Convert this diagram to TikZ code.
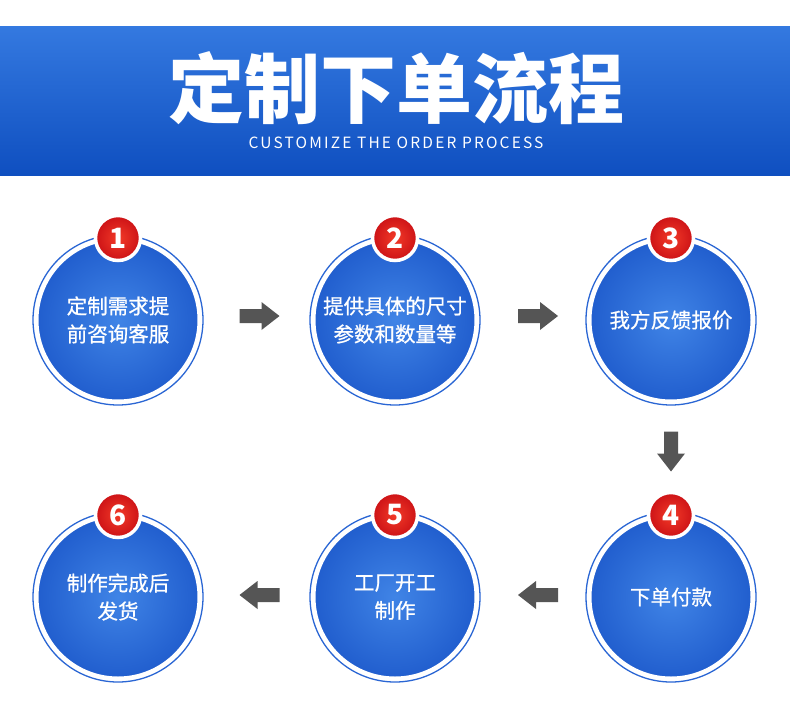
\documentclass[tikz,border=0pt]{standalone}
\usepackage{fontspec}
\setmainfont{Noto Sans CJK SC}
\usetikzlibrary{calc}
\definecolor{bannertop}{HTML}{3479E0}
\definecolor{bannerbot}{HTML}{0F4FC0}
\definecolor{ringblue}{HTML}{2A66D4}
\definecolor{ballin}{HTML}{4084E6}
\definecolor{ballout}{HTML}{215ECE}
\definecolor{redin}{HTML}{F23A28}
\definecolor{redout}{HTML}{CC1216}
\definecolor{arrowgray}{HTML}{555555}
\tikzset{
  ball/.style={circle, minimum size=162pt, inner sep=0pt, draw=white, line width=3pt,
    inner color=ballin, outer color=ballout, text=white, align=center,
    font=\addfontfeatures{FakeBold=0.8}\fontsize{20.5}{30}\selectfont},
  ring/.style={circle, minimum size=170pt, inner sep=0pt, draw=ringblue, line width=1.3pt},
  badge/.style={circle, minimum size=45pt, inner sep=0pt, draw=white, line width=3.5pt,
    inner color=redin, outer color=redout, text=white, font=\bfseries\fontsize{28}{28}\selectfont},
  blockarrow/.pic={\fill[arrowgray] (-20,-7) -- (2,-7) -- (2,-14) -- (20,0) -- (2,14) -- (2,7) -- (-20,7) -- cycle;}
}
\begin{document}
\begin{tikzpicture}[x=1pt,y=-1pt]
\useasboundingbox (0,0) rectangle (790,715);
\fill[white] (0,0) rectangle (790,715);
\shade[top color=bannertop, bottom color=bannerbot] (0,26) rectangle (790,175);
\node[text=white, font=\bfseries\fontsize{76}{76}\selectfont, inner sep=0pt] (title) at (396,88) {定制下单流程};
\node[text=white, font=\addfontfeatures{LetterSpace=14}\fontsize{15.5}{16}\selectfont, inner sep=0pt] (subtitle) at (396,143) {CUSTOMIZE THE ORDER PROCESS};

% circles
\foreach \n/\x/\y in {1/118/320, 2/395/320, 3/671/320, 4/671/597, 5/395/597, 6/118/597}{
  \node[ring] (r\n) at (\x,\y) {};
}
\node[ball] (c1) at (118,320) {\raisebox{-2pt}{定制需求提}\\前咨询客服};
\node[ball] (c2) at (395,320) {\raisebox{-2pt}{提供具体的尺寸}\\参数和数量等};
\node[ball] (c3) at (671,320) {\raisebox{-2pt}{我方反馈报价}};
\node[ball] (c4) at (671,597) {\raisebox{-2pt}{下单付款}};
\node[ball] (c5) at (395,597) {\raisebox{-2pt}{工厂开工}\\制作};
\node[ball] (c6) at (118,597) {\raisebox{-2pt}{制作完成后}\\发货};

\foreach \n in {1,...,6}{
  \node[badge] (b\n) at ($(c\n)+(0,-82)$) {\n};
}

% arrows
\pic at ($(c1)!0.5!(c2)+(3,-4)$) {blockarrow};
\pic at ($(c2)!0.5!(c3)+(5,-4)$) {blockarrow};
\pic[rotate=-90] at ($(c3)!0.5!(c4)+(0,-7)$) {blockarrow};
\pic[rotate=180] at ($(c5)!0.5!(c4)+(5,-2)$) {blockarrow};
\pic[rotate=180] at ($(c6)!0.5!(c5)+(3,-2)$) {blockarrow};
\end{tikzpicture}
\end{document}
